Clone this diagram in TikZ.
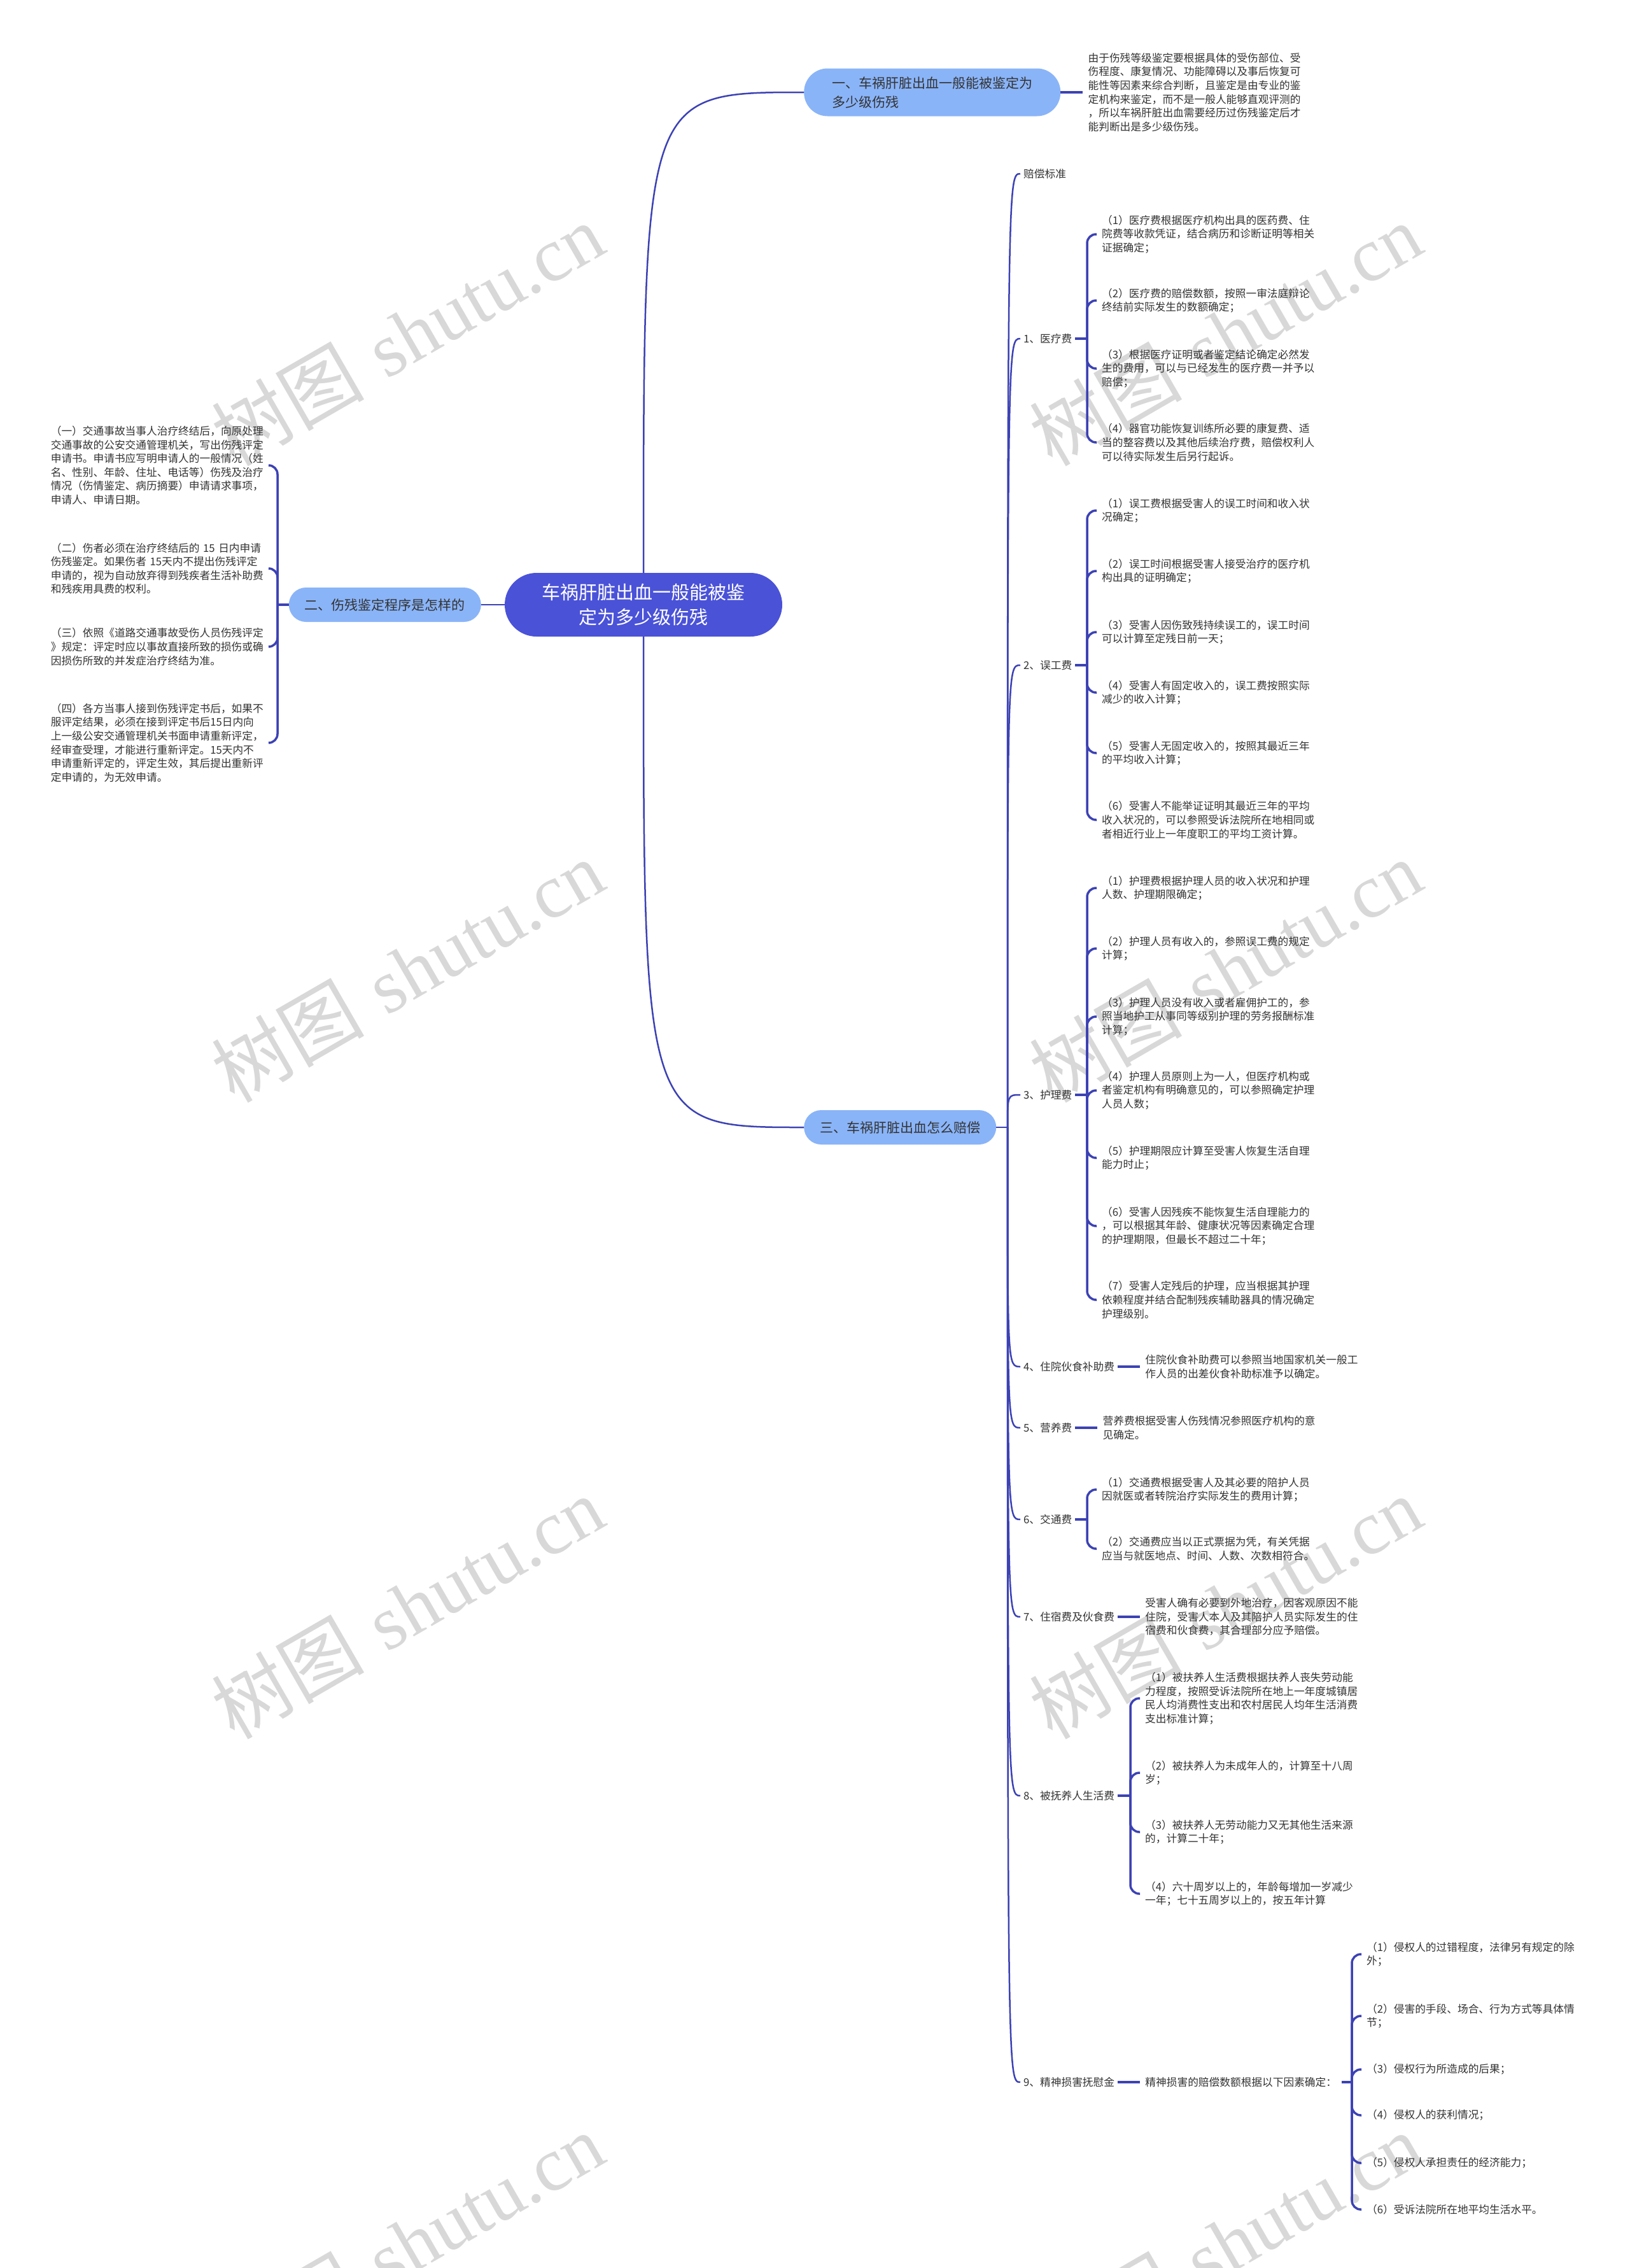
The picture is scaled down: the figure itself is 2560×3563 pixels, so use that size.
\documentclass[tikz,border=0pt]{standalone}
\usepackage{fontspec}
\newfontfamily\cjk{Noto Sans CJK SC}
\newfontfamily\wmfont{Liberation Serif}
\usetikzlibrary{positioning}
\definecolor{linkblue}{RGB}{60,66,180}
\definecolor{rootblue}{RGB}{74,82,216}
\definecolor{topicblue}{RGB}{138,180,248}
\definecolor{txtgray}{RGB}{51,51,51}
\definecolor{wmgray}{RGB}{216,216,216}

\begin{document}
\begin{tikzpicture}[x=1pt, y=-1pt,
    root/.style={fill=rootblue, text=white, rounded corners=50pt,
                 font=\cjk\fontsize{29}{39}\selectfont, text width=322pt,
                 align=center, minimum width=436pt, minimum height=100pt, inner xsep=57pt},
    topic/.style={fill=topicblue, text=txtgray, rounded corners=27pt,
                  font=\cjk\fontsize{21}{30}\selectfont, minimum height=54pt, inner xsep=25pt},
    cat/.style={anchor=west, text=txtgray, font=\cjk\fontsize{16.7}{21.6}\selectfont,
                inner xsep=5pt, inner ysep=3pt},
    item/.style={anchor=west, align=left, text=txtgray,
                 font=\cjk\fontsize{16.7}{21.6}\selectfont, inner xsep=8pt, inner ysep=2pt},
    link/.style={draw=linkblue, line width=2.5pt},
    brace/.style={draw=linkblue, line width=3.5pt, rounded corners=14pt},
    wmark/.style={text=wmgray, rotate=30, font=\fontsize{120}{120}\selectfont}]

    \useasboundingbox (0,0) rectangle (2560,3563);
    \fill[white] (0,0) rectangle (2560,3563);

    % watermarks
    \foreach \wy [count=\w] in {525,1525,2525,3525} {
        \node[wmark] (wl\w) at (640,\wy) {{\cjk 树图} {\wmfont shutu.cn}};
        \node[wmark] (wr\w) at (1925,\wy) {{\cjk 树图} {\wmfont shutu.cn}};
    }

    % main topics
    \node[root] (c) at (1011,950) {车祸肝脏出血一般能被鉴\\定为多少级伤残};
    \node[topic, anchor=west, align=left, minimum height=75pt, rounded corners=37pt, inner xsep=44pt]
        (b1) at (1263,145) {一、车祸肝脏出血一般能被鉴定为\\多少级伤残};
    \node[topic, anchor=east] (b2) at (756,950) {二、伤残鉴定程序是怎样的};
    \node[topic, anchor=west] (b3) at (1263,1771) {三、车祸肝脏出血怎么赔偿};

    \draw[link] (c.north) .. controls (c.north |- b1.west) .. (b1.west);
    \draw[link] (c.south) .. controls (c.south |- b3.west) .. (b3.west);
    \draw[link] (c.west) -- (b2.east);

    % branch one
    \node[item, right=35pt of b1] (n1) {由于伤残等级鉴定要根据具体的受伤部位、受\\伤程度、康复情况、功能障碍以及事后恢复可\\能性等因素来综合判断，且鉴定是由专业的鉴\\定机构来鉴定，而不是一般人能够直观评测的\\，所以车祸肝脏出血需要经历过伤残鉴定后才\\能判断出是多少级伤残。};
    \draw[brace] (b1.east) -- (n1.west);

    % branch two
    \begin{scope}[every node/.style={item, anchor=east, text width=336pt, inner xsep=6pt}]
        \node (p1) at (422,731) {（一）交通事故当事人治疗终结后，向原处理\\交通事故的公安交通管理机关，写出伤残评定\\申请书。申请书应写明申请人的一般情况（姓\\名、性别、年龄、住址、电话等）伤残及治疗\\情况（伤情鉴定、病历摘要）申请请求事项，\\申请人、申请日期。};
        \node (p2) at (422,893) {（二）伤者必须在治疗终结后的 15 日内申请\\伤残鉴定。如果伤者 15天内不提出伤残评定\\申请的，视为自动放弃得到残疾者生活补助费\\和残疾用具费的权利。};
        \node (p3) at (422,1016) {（三）依照《道路交通事故受伤人员伤残评定\\》规定：评定时应以事故直接所致的损伤或确\\因损伤所致的并发症治疗终结为准。};
        \node (p4) at (422,1167) {（四）各方当事人接到伤残评定书后，如果不\\服评定结果，必须在接到评定书后15日内向\\上一级公安交通管理机关书面申请重新评定，\\经审查受理，才能进行重新评定。15天内不\\申请重新评定的，评定生效，其后提出重新评\\定申请的，为无效申请。};
    \end{scope}
    \draw[brace] (b2.west) -- (436,950) coordinate (j2);
    \foreach \k in {1,...,4} \draw[brace] (j2) |- (p\k.east);

    % branch three
    \node[cat] (l0) at (1603,273) {赔偿标准};
    \node[cat] (l1) at (1603,532) {1、医疗费};
    \node[cat] (l2) at (1603,1045) {2、误工费};
    \node[cat] (l3) at (1603,1720) {3、护理费};
    \node[cat] (l4) at (1603,2147) {4、住院伙食补助费};
    \node[cat] (l5) at (1603,2243) {5、营养费};
    \node[cat] (l6) at (1603,2387) {6、交通费};
    \node[cat] (l7) at (1603,2540) {7、住宿费及伙食费};
    \node[cat] (l8) at (1603,2821) {8、被抚养人生活费};
    \node[cat] (l9) at (1603,3271) {9、精神损害抚慰金};

    \draw[link] (b3.east) -- (1583,1771) coordinate (J);
    \foreach \k in {0,...,9} \draw[link] (J) .. controls (J |- l\k.west) .. (l\k.west);

    % 1
    \node[item] (m11) at (1723,368) {（1）医疗费根据医疗机构出具的医药费、住\\院费等收款凭证，结合病历和诊断证明等相关\\证据确定；};
    \node[item] (m12) at (1723,472) {（2）医疗费的赔偿数额，按照一审法庭辩论\\终结前实际发生的数额确定；};
    \node[item] (m13) at (1723,579) {（3）根据医疗证明或者鉴定结论确定必然发\\生的费用，可以与已经发生的医疗费一并予以\\赔偿；};
    \node[item] (m14) at (1723,695) {（4）器官功能恢复训练所必要的康复费、适\\当的整容费以及其他后续治疗费，赔偿权利人\\可以待实际发生后另行起诉。};
    \draw[brace] (l1.east) -- (1708,532) coordinate (j1);
    \foreach \k in {1,...,4} \draw[brace] (j1) |- (m1\k.west);

    % 2
    \node[item] (m21) at (1723,802) {（1）误工费根据受害人的误工时间和收入状\\况确定；};
    \node[item] (m22) at (1723,897) {（2）误工时间根据受害人接受治疗的医疗机\\构出具的证明确定；};
    \node[item] (m23) at (1723,993) {（3）受害人因伤致残持续误工的，误工时间\\可以计算至定残日前一天；};
    \node[item] (m24) at (1723,1088) {（4）受害人有固定收入的，误工费按照实际\\减少的收入计算；};
    \node[item] (m25) at (1723,1183) {（5）受害人无固定收入的，按照其最近三年\\的平均收入计算；};
    \node[item] (m26) at (1723,1288) {（6）受害人不能举证证明其最近三年的平均\\收入状况的，可以参照受诉法院所在地相同或\\者相近行业上一年度职工的平均工资计算。};
    \draw[brace] (l2.east) -- (1708,1045) coordinate (j2r);
    \foreach \k in {1,...,6} \draw[brace] (j2r) |- (m2\k.west);

    % 3
    \node[item] (m31) at (1723,1395) {（1）护理费根据护理人员的收入状况和护理\\人数、护理期限确定；};
    \node[item] (m32) at (1723,1490) {（2）护理人员有收入的，参照误工费的规定\\计算；};
    \node[item] (m33) at (1723,1597) {（3）护理人员没有收入或者雇佣护工的，参\\照当地护工从事同等级别护理的劳务报酬标准\\计算；};
    \node[item] (m34) at (1723,1713) {（4）护理人员原则上为一人，但医疗机构或\\者鉴定机构有明确意见的，可以参照确定护理\\人员人数；};
    \node[item] (m35) at (1723,1819) {（5）护理期限应计算至受害人恢复生活自理\\能力时止；};
    \node[item] (m36) at (1723,1926) {（6）受害人因残疾不能恢复生活自理能力的\\，可以根据其年龄、健康状况等因素确定合理\\的护理期限，但最长不超过二十年；};
    \node[item] (m37) at (1723,2042) {（7）受害人定残后的护理，应当根据其护理\\依赖程度并结合配制残疾辅助器具的情况确定\\护理级别。};
    \draw[brace] (l3.east) -- (1708,1720) coordinate (j3);
    \foreach \k in {1,...,7} \draw[brace] (j3) |- (m3\k.west);

    % 4, 5
    \node[item, right=35pt of l4] (t4) {住院伙食补助费可以参照当地国家机关一般工\\作人员的出差伙食补助标准予以确定。};
    \draw[brace] (l4.east) -- (t4.west);
    \node[item, right=35pt of l5] (t5) {营养费根据受害人伤残情况参照医疗机构的意\\见确定。};
    \draw[brace] (l5.east) -- (t5.west);

    % 6
    \node[item] (m61) at (1723,2340) {（1）交通费根据受害人及其必要的陪护人员\\因就医或者转院治疗实际发生的费用计算；};
    \node[item] (m62) at (1723,2433) {（2）交通费应当以正式票据为凭，有关凭据\\应当与就医地点、时间、人数、次数相符合。};
    \draw[brace] (l6.east) -- (1708,2387) coordinate (j6);
    \foreach \k in {1,2} \draw[brace] (j6) |- (m6\k.west);

    % 7
    \node[item, right=35pt of l7] (t7) {受害人确有必要到外地治疗，因客观原因不能\\住院，受害人本人及其陪护人员实际发生的住\\宿费和伙食费，其合理部分应予赔偿。};
    \draw[brace] (l7.east) -- (t7.west);

    % 8
    \node[item] (m81) at (1791,2668) {（1）被扶养人生活费根据扶养人丧失劳动能\\力程度，按照受诉法院所在地上一年度城镇居\\民人均消费性支出和农村居民人均年生活消费\\支出标准计算；};
    \node[item] (m82) at (1791,2785) {（2）被扶养人为未成年人的，计算至十八周\\岁；};
    \node[item] (m83) at (1791,2878) {（3）被扶养人无劳动能力又无其他生活来源\\的，计算二十年；};
    \node[item] (m84) at (1791,2975) {（4）六十周岁以上的，年龄每增加一岁减少\\一年；七十五周岁以上的，按五年计算};
    \draw[brace] (l8.east) -- (1776,2821) coordinate (j8);
    \foreach \k in {1,...,4} \draw[brace] (j8) |- (m8\k.west);

    % 9
    \node[item, right=35pt of l9] (t9) {精神损害的赔偿数额根据以下因素确定：};
    \draw[brace] (l9.east) -- (t9.west);
    \node[item] (m91) at (2139,3070) {（1）侵权人的过错程度，法律另有规定的除\\外；};
    \node[item] (m92) at (2139,3167) {（2）侵害的手段、场合、行为方式等具体情\\节；};
    \node[item] (m93) at (2139,3251) {（3）侵权行为所造成的后果；};
    \node[item] (m94) at (2139,3323) {（4）侵权人的获利情况；};
    \node[item] (m95) at (2139,3398) {（5）侵权人承担责任的经济能力；};
    \node[item] (m96) at (2139,3471) {（6）受诉法院所在地平均生活水平。};
    \draw[brace] (t9.east) -- (2124,3271) coordinate (j9);
    \foreach \k in {1,...,6} \draw[brace] (j9) |- (m9\k.west);
\end{tikzpicture}
\end{document}
